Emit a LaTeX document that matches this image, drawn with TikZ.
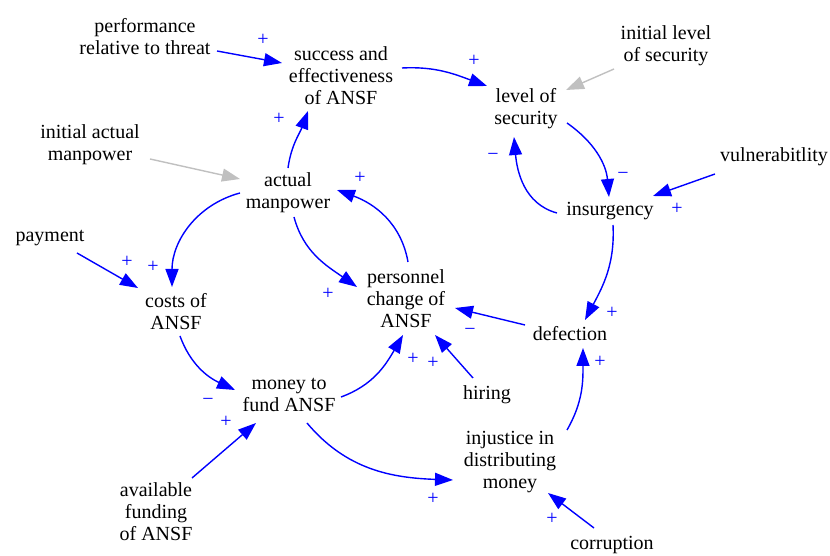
\documentclass[tikz,border=0pt]{standalone}
\usepackage{fontspec}
\setmainfont{Liberation Serif}
\usetikzlibrary{arrows.meta,calc}
\definecolor{lblue}{RGB}{0,0,255}
\definecolor{lgray}{RGB}{192,192,192}
\begin{document}
\begin{tikzpicture}[x=1pt,y=1pt,
  var/.style={font=\fontsize{20}{22}\selectfont, align=center, inner sep=0pt},
  lnk/.style={draw=lblue, line width=1.4pt, -{Triangle[length=18pt,width=13pt]}},
  glnk/.style={draw=lgray, line width=1.4pt, -{Triangle[length=18pt,width=13pt]}},
  pol/.style={text=lblue, font=\fontsize{20}{20}\selectfont, inner sep=0pt}]
\useasboundingbox (0,0) rectangle (830,556);
% variables
\node[var] (perf) at (145,519) {performance\\relative to threat};
\node[var] (succ) at (341,480) {success and\\effectiveness\\of ANSF};
\node[var] (lvl) at (526,447) {level of\\security};
\node[var] (initlvl) at (666,510) {initial level\\of security};
\node[var] (vuln) at (774,399) {vulnerabitlity};
\node[var] (insurg) at (610,345) {insurgency};
\node[var] (initman) at (90,411) {initial actual\\manpower};
\node[var] (actman) at (288,363) {actual\\manpower};
\node[var] (pay) at (50,318) {payment};
\node[var] (costs) at (176,244) {costs of\\ANSF};
\node[var] (pers) at (406,257) {personnel\\change of\\ANSF};
\node[var] (money) at (289,161) {money to\\fund ANSF};
\node[var] (avail) at (156,44) {available\\funding\\of ANSF};
\node[var] (defect) at (570,222) {defection};
\node[var] (hiring) at (487,161) {hiring};
\node[var] (inj) at (510,94) {injustice in\\distributing\\money};
\node[var] (corr) at (612,11) {corruption};
% connectors
\draw[lnk] ($(perf)+(72,-14)$) -- ($(succ)+(-59,13)$);
\draw[lnk] ($(succ)+(61,8)$) to[out=3,in=160] ($(lvl)+(-39,23)$);
\draw[glnk] ($(initlvl)+(-52,-23)$) -- ($(lvl)+(40,19)$);
\draw[lnk] ($(lvl)+(41,-14)$) to[out=-35,in=95] ($(insurg)+(-1,14)$);
\draw[lnk] ($(insurg)+(-53,-2)$) to[out=165,in=-85] ($(lvl)+(-12,-28)$);
\draw[lnk] ($(vuln)+(-59,-17)$) -- ($(insurg)+(43,15)$);
\draw[lnk] ($(insurg)+(3,-14)$) to[out=-87,in=62] ($(defect)+(15,14)$);
\draw[lnk] ($(defect)+(-45,9)$) -- ($(pers)+(49,-9)$);
\draw[lnk] ($(hiring)+(-14,17)$) -- ($(pers)+(29,-36)$);
\draw[lnk] ($(money)+(52,-2)$) to[out=20,in=-120] ($(pers)+(-3,-36)$);
\draw[lnk] ($(inj)+(57,32)$) to[out=60,in=-90] ($(defect)+(13,-14)$);
\draw[lnk] ($(corr)+(-18,17)$) -- ($(inj)+(38,-31)$);
\draw[lnk] ($(money)+(18,-28)$) to[out=-50,in=178] ($(inj)+(-57,-18)$);
\draw[lnk] ($(avail)+(36,34)$) -- ($(money)+(-33,-28)$);
\draw[lnk] ($(costs)+(4,-24)$) to[out=-70,in=155] ($(money)+(-54,5)$);
\draw[lnk] ($(pay)+(27,-15)$) -- ($(costs)+(-38,24)$);
\draw[lnk] ($(actman)+(-48,0)$) to[out=195,in=90] ($(costs)+(-4,25)$);
\draw[lnk] ($(actman)+(6,-24)$) to[out=-75,in=145] ($(pers)+(-49,12)$);
\draw[lnk] ($(pers)+(2,37)$) to[out=100,in=-20] ($(actman)+(49,3)$);
\draw[lnk] ($(actman)+(0,25)$) to[out=82,in=-110] ($(succ)+(-33,-35)$);
\draw[glnk] ($(initman)+(60,-14)$) -- ($(actman)+(-48,14)$);
% polarities
\node[pol] (p1) at (263,516) {+};
\node[pol] (p2) at (474,495) {+};
\node[pol] (p4) at (623,380) {−};
\node[pol] (p5) at (493,399) {−};
\node[pol] (p6) at (677,347) {+};
\node[pol] (p7) at (612,243) {+};
\node[pol] (p8) at (470,224) {−};
\node[pol] (p9) at (433,193) {+};
\node[pol] (p10) at (413,197) {+};
\node[pol] (p11) at (600,194) {+};
\node[pol] (p12) at (552,37) {+};
\node[pol] (p13) at (433,57) {+};
\node[pol] (p14) at (226,134) {+};
\node[pol] (p15) at (208,154) {−};
\node[pol] (p16) at (127,294) {+};
\node[pol] (p17) at (153,289) {+};
\node[pol] (p18) at (328,262) {+};
\node[pol] (p19) at (360,378) {+};
\node[pol] (p20) at (279,437) {+};
\end{tikzpicture}
\end{document}
